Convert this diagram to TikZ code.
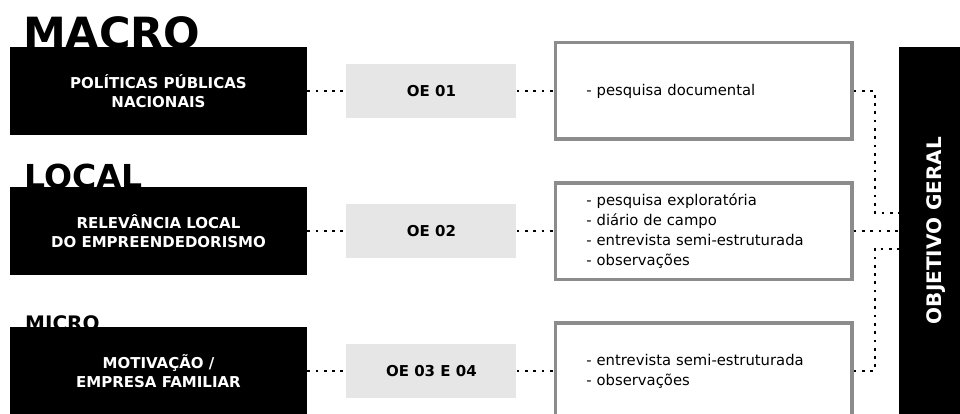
\documentclass[tikz,border=0pt]{standalone}
\usepackage{fontspec}
\setmainfont{DejaVu Sans}
\usepackage{graphicx}
\usepackage{xcolor}
\usepackage{tikz}
\usetikzlibrary{positioning}

\definecolor{oegray}{HTML}{E6E6E6}
\definecolor{framegray}{HTML}{8C8C8C}

\begin{document}
\begin{tikzpicture}[
    x=1pt, y=-1pt,
    level/.style={
        anchor=base west,
        inner sep=0pt,
        font=\bfseries
    },
    theme/.style={
        rectangle,
        fill=black,
        text=white,
        minimum width=297pt,
        minimum height=88pt,
        inner sep=0pt,
        align=center,
        font=\fontsize{15}{19}\selectfont\bfseries
    },
    goal/.style={
        rectangle,
        fill=oegray,
        minimum width=170pt,
        minimum height=54pt,
        inner sep=0pt,
        font=\fontsize{15}{18}\selectfont\bfseries
    },
    method/.style={
        rectangle,
        draw=framegray,
        line width=3.5pt,
        fill=white,
        minimum width=296.5pt,
        minimum height=96.5pt,
        inner xsep=31pt,
        text width=234.5pt,
        align=left,
        font=\fontsize{14.8}{20}\selectfont
    },
    conn/.style={line width=2pt, dash pattern=on 2.7pt off 5.6pt}
]

\useasboundingbox (0,0) rectangle (960,414);
\clip (0,0) rectangle (960,414);

% scale labels (partly hidden by the boxes)
\node (macro) [level, font=\fontsize{43}{43}\selectfont\bfseries] at (23,48.5) {MACRO};
\node (local) [level, font=\fontsize{33}{33}\selectfont\bfseries] at (24,189) {LOCAL};
\node (micro) [level, font=\fontsize{20}{20}\selectfont\bfseries] at (25,330) {MICRO};

\node (pol) [theme] at (158.5,91)  {POLÍTICAS PÚBLICAS\\NACIONAIS};
\node (loc) [theme] at (158.5,231) {RELEVÂNCIA LOCAL\\DO EMPREENDEDORISMO};
\node (mot) [theme] at (158.5,371) {MOTIVAÇÃO /\\EMPRESA FAMILIAR};

\node (oe1) [goal, right=39pt of pol] {OE 01};
\node (oe2) [goal, right=39pt of loc] {OE 02};
\node (oe3) [goal, right=39pt of mot] {OE 03 E 04};

\node (doc)  [method, right=37pt of oe1] {- pesquisa documental};
\node (expl) [method, right=37pt of oe2] {- pesquisa exploratória\\- diário de campo\\- entrevista semi-estruturada\\- observações};
\node (entr) [method, right=37pt of oe3] {- entrevista semi-estruturada\\- observações};

\node (obj) [fill=black, text=white, minimum width=61pt, minimum height=367pt,
    inner sep=0pt, font=\fontsize{20}{20}\selectfont\bfseries] at (929.5,230.5)
    {\hspace*{14pt}\rotatebox{90}{OBJETIVO GERAL}};

\draw [conn] (pol) -- (oe1);
\draw [conn] (loc) -- (oe2);
\draw [conn] (mot) -- (oe3);
\draw [conn] (oe1) -- (doc);
\draw [conn] (oe2) -- (expl);
\draw [conn] (oe3) -- (entr);

\draw [conn] (doc.east) -- ++(21,0) |- ([yshift=18pt]obj.west);
\draw [conn] (expl.east) -- (expl.east -| obj.west);
\draw [conn] (entr.east) -- ++(21,0) |- ([yshift=-18pt]obj.west);

\end{tikzpicture}
\end{document}
